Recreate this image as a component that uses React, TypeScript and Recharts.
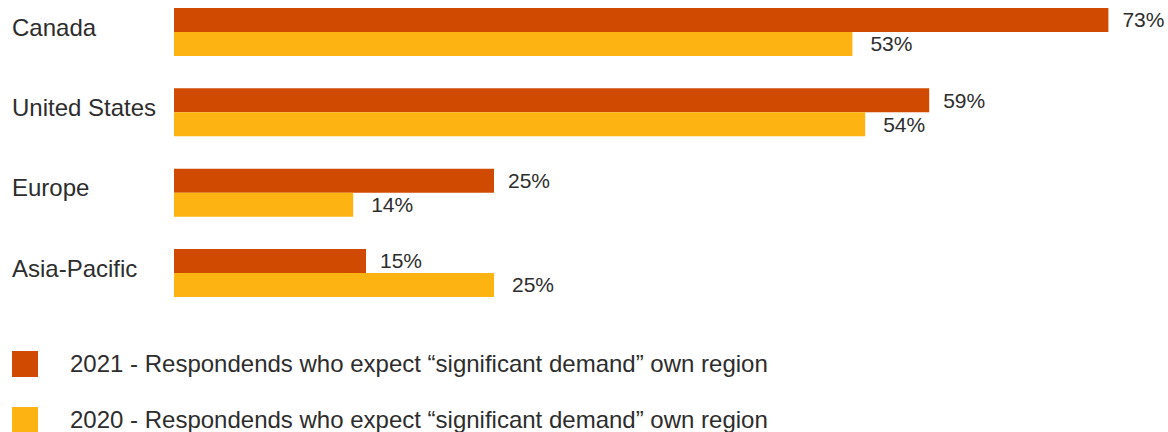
import React from 'react';
import { BarChart, Bar, XAxis, YAxis, LabelList, Legend } from 'recharts';

const regions = ['Canada', 'United States', 'Europe', 'Asia-Pacific'];
const values2021 = [73, 59, 25, 15];
const values2020 = [53, 54, 14, 25];
const seriesNames = [
  '2021 - Respondends who expect \u201csignificant demand\u201d own region',
  '2020 - Respondends who expect \u201csignificant demand\u201d own region',
];
const colors = ['#D04A02', '#FDB413'];

const data = regions.map((region, i) => ({
  region,
  y2021: values2021[i],
  y2020: values2020[i],
}));

const FONT = '"Liberation Sans", Arial, sans-serif';
const TEXT = '#2d2d2d';

const CategoryTick = (props: any) => {
  const { y, payload } = props;
  return (
    <text x={12} y={y + 3.5} textAnchor="start" fontFamily={FONT} fontSize={24} fill={TEXT}>
      {payload.value}
    </text>
  );
};

const LegendContent = () => (
  <div style={{ fontFamily: FONT, color: TEXT }}>
    {seriesNames.map((name, i) => (
      <div key={name} style={{ display: 'flex', alignItems: 'center', height: 26, marginBottom: i === 0 ? 30 : 0 }}>
        <div style={{ width: 26, height: 26, background: colors[i], marginRight: 32, flexShrink: 0 }} />
        <span style={{ fontSize: 24, lineHeight: '26px', whiteSpace: 'nowrap' }}>{name}</span>
      </div>
    ))}
  </div>
);

export default function App() {
  return (
    <div style={{ position: 'absolute', left: 0, top: 0, width: 1168, height: 432, background: '#fff' }}>
      <BarChart
        width={1168}
        height={432}
        data={data}
        layout="vertical"
        margin={{ top: -8, right: 34, left: 0, bottom: 118.67 }}
        barGap={0}
        barSize={24}
      >
        <XAxis type="number" domain={[0, 75]} hide />
        <YAxis
          type="category"
          dataKey="region"
          width={174}
          axisLine={false}
          tickLine={false}
          tick={<CategoryTick />}
          interval={0}
        />
        <Legend
          layout="vertical"
          align="center"
          verticalAlign="middle"
          content={<LegendContent />}
          wrapperStyle={{ top: 351, left: 12, width: 'auto', height: 'auto' }}
        />
        <Bar dataKey="y2021" name={seriesNames[0]} fill={colors[0]} isAnimationActive={false}>
          <LabelList
            dataKey="y2021"
            position="right"
            offset={14}
            formatter={(v: any) => `${v}%`}
            style={{ fontFamily: FONT, fontSize: 21, fill: TEXT }}
          />
        </Bar>
        <Bar dataKey="y2020" name={seriesNames[1]} fill={colors[1]} isAnimationActive={false}>
          <LabelList
            dataKey="y2020"
            position="right"
            offset={18}
            formatter={(v: any) => `${v}%`}
            style={{ fontFamily: FONT, fontSize: 21, fill: TEXT }}
          />
        </Bar>
      </BarChart>
    </div>
  );
}
